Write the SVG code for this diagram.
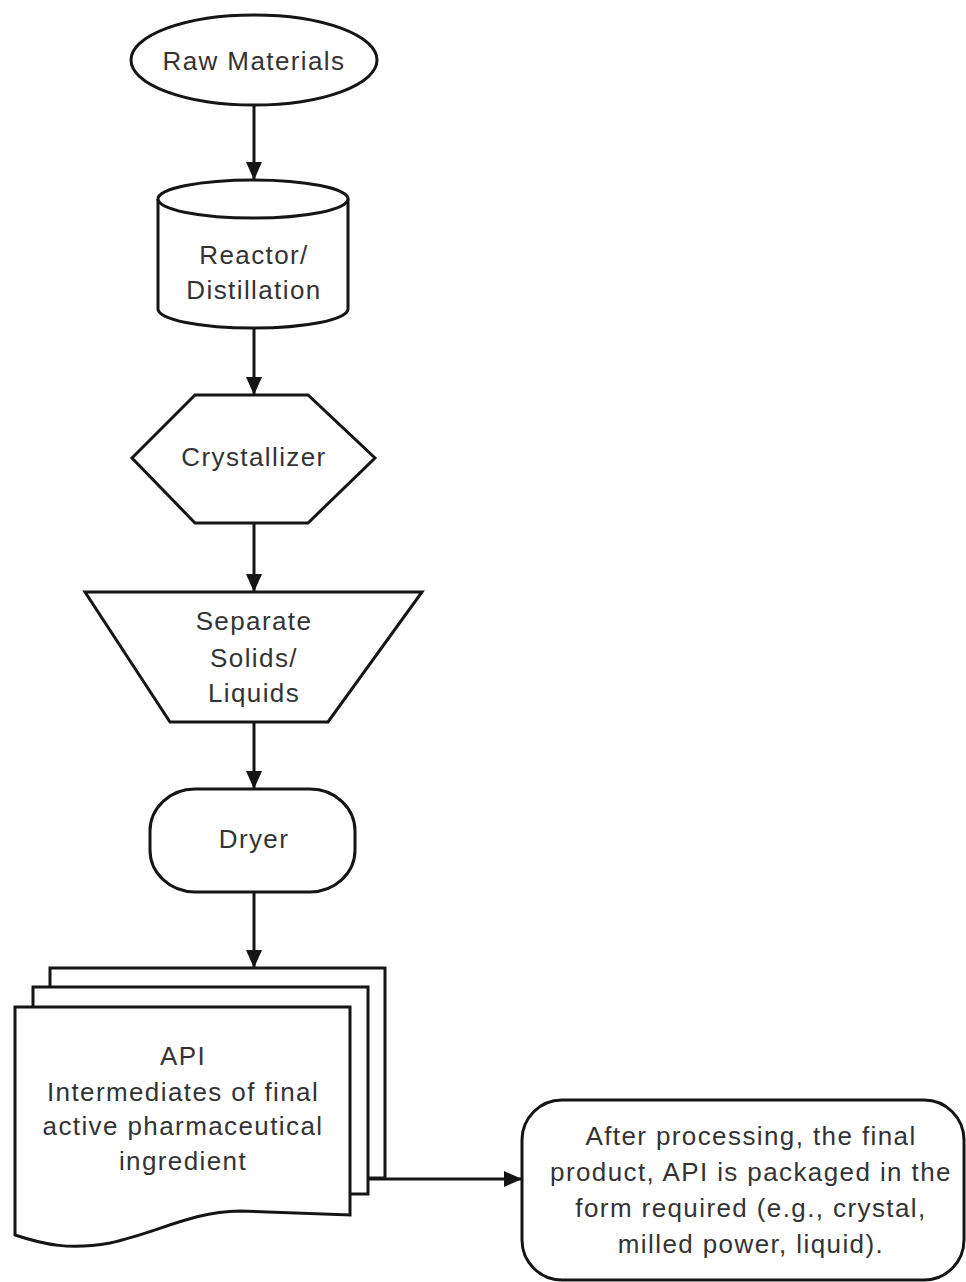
<svg xmlns="http://www.w3.org/2000/svg" width="966" height="1282" viewBox="0 0 966 1282">
<defs>
<style>
.s{fill:#fff;stroke:#151515;stroke-width:3;stroke-linejoin:miter}
.t{font-family:"Liberation Sans",Arial,sans-serif;font-size:26px;fill:#333;text-anchor:middle;letter-spacing:1.4px}
.c{stroke:#151515;stroke-width:3;fill:none}
</style>
<marker id="ah" markerWidth="18" markerHeight="16" refX="17" refY="8" orient="auto" markerUnits="userSpaceOnUse">
<path d="M0,0 L18,8 L0,16 Z" fill="#151515"/>
</marker>
</defs>
<rect width="966" height="1282" fill="#fff"/>
<g id="connectors">
<line class="c" x1="254" y1="105" x2="254" y2="179" marker-end="url(#ah)"/>
<line class="c" x1="254" y1="328" x2="254" y2="394" marker-end="url(#ah)"/>
<line class="c" x1="254" y1="523" x2="254" y2="591" marker-end="url(#ah)"/>
<line class="c" x1="254" y1="722" x2="254" y2="788" marker-end="url(#ah)"/>
<line class="c" x1="254" y1="892" x2="254" y2="967" marker-end="url(#ah)"/>
<line class="c" x1="368" y1="1179" x2="521" y2="1179" marker-end="url(#ah)"/>
</g>
<g id="raw-materials">
<ellipse class="s" cx="254" cy="60" rx="123" ry="45"/>
<text class="t" x="254" y="70">Raw Materials</text>
</g>
<g id="reactor">
<path class="s" d="M158,199 V309 A95,19 0 0 0 348,309 V199"/>
<ellipse class="s" cx="253" cy="199" rx="95" ry="19"/>
<text class="t" x="254" y="264">Reactor/</text>
<text class="t" x="254" y="299">Distillation</text>
</g>
<g id="crystallizer">
<polygon class="s" points="195,395 308,395 375,458 308,523 195,523 132,458"/>
<text class="t" x="254" y="466">Crystallizer</text>
</g>
<g id="separate">
<polygon class="s" points="85,592 422,592 328,722 170,722"/>
<text class="t" x="254" y="630">Separate</text>
<text class="t" x="254" y="667">Solids/</text>
<text class="t" x="254" y="702">Liquids</text>
</g>
<g id="dryer">
<rect class="s" x="150" y="789" width="205" height="103" rx="45" ry="42"/>
<text class="t" x="254" y="848">Dryer</text>
</g>
<g id="api">
<rect class="s" x="50" y="968" width="335" height="210"/>
<rect class="s" x="33" y="987" width="335" height="207"/>
<path class="s" d="M15,1007 H350 V1215 L240,1211 C190,1212 160,1232 110,1243 C70,1250 45,1245 15,1235 Z"/>
<text class="t" x="183" y="1065">API</text>
<text class="t" x="183" y="1101">Intermediates of final</text>
<text class="t" x="183" y="1135">active pharmaceutical</text>
<text class="t" x="183" y="1170">ingredient</text>
</g>
<g id="final-product">
<rect class="s" x="522" y="1100" width="442" height="180" rx="40" ry="40"/>
<text class="t" x="751" y="1145">After processing, the final</text>
<text class="t" x="751" y="1181">product, API is packaged in the</text>
<text class="t" x="751" y="1217">form required (e.g., crystal,</text>
<text class="t" x="751" y="1253">milled power, liquid).</text>
</g>
</svg>
